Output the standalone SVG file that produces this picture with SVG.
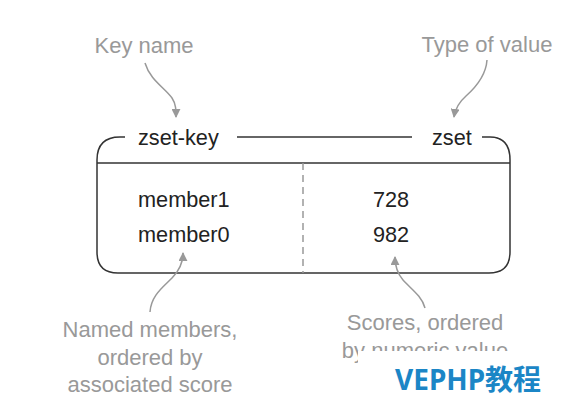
<svg xmlns="http://www.w3.org/2000/svg" width="581" height="411" viewBox="0 0 581 411">
<style>
.box{fill:none;stroke:#333;stroke-width:1.5}
.dash{fill:none;stroke:#999;stroke-width:1.5;stroke-dasharray:7,5}
.lbl{font-family:"Liberation Sans",Arial,sans-serif;font-size:21.7px;fill:#222}
.note{font-family:"Liberation Sans",Arial,sans-serif;font-size:22px;fill:#999;text-anchor:middle}
.conn{fill:none;stroke:#999;stroke-width:1.5}
.wm{font-family:"Noto Sans","Noto Sans CJK SC",sans-serif;font-size:28px;font-weight:bold;fill:#1b86c6}
</style>
<defs>
<marker id="ah" viewBox="0 0 10 10" refX="9" refY="5" markerWidth="9" markerHeight="9" markerUnits="userSpaceOnUse" orient="auto">
<path d="M0,0 L10,5 L0,10 z" fill="#999"/>
</marker>
</defs>
<rect width="581" height="411" fill="#fff"/>
<g id="zset-box">
<path class="box" d="M125,137 H120 C104,137 97,145 97,160 V252 Q97,273 118,273 H489 Q510,273 510,252 V160 C510,145 503,137 490,137 H482"/>
<path class="box" d="M237,137 H412"/>
<path class="box" d="M97,163 H510"/>
<path class="dash" d="M303,163 V273"/>
<text class="lbl" x="138" y="145">zset-key</text>
<text class="lbl" x="432" y="145">zset</text>
<text class="lbl" x="138" y="207">member1</text>
<text class="lbl" x="138" y="242">member0</text>
<text class="lbl" x="373" y="207">728</text>
<text class="lbl" x="373" y="242">982</text>
</g>
<g id="note-key-name">
<text class="note" x="144" y="53">Key name</text>
</g>
<g id="note-type">
<text class="note" x="487" y="52">Type of value</text>
</g>
<g id="note-members">
<text class="note" x="150" y="337">Named members,</text>
<text class="note" x="150" y="365">ordered by</text>
<text class="note" x="150" y="392">associated score</text>
</g>
<g id="note-scores">
<text class="note" x="425" y="330">Scores, ordered</text>
<text class="note" x="425" y="358">by numeric value</text>
</g>
<g id="connectors">
<path class="conn" marker-end="url(#ah)" d="M145,63 C150,80 165,88 172,98 C176,104 176,110 176,117"/>
<path class="conn" marker-end="url(#ah)" d="M487,60 C486,75 475,88 466,96 C458,103 455,110 454,117"/>
<path class="conn" marker-end="url(#ah)" d="M150,312 C151,296 162,288 172,278 C180,270 183,262 183,253"/>
<path class="conn" marker-end="url(#ah)" d="M425,308 C422,296 410,288 403,280 C397,273 395,265 395,257"/>
</g>
<g id="watermark">
<rect x="358" y="351" width="223" height="60" fill="#fff"/>
<text class="wm" x="395" y="390">VEPHP教程</text>
</g>
</svg>
